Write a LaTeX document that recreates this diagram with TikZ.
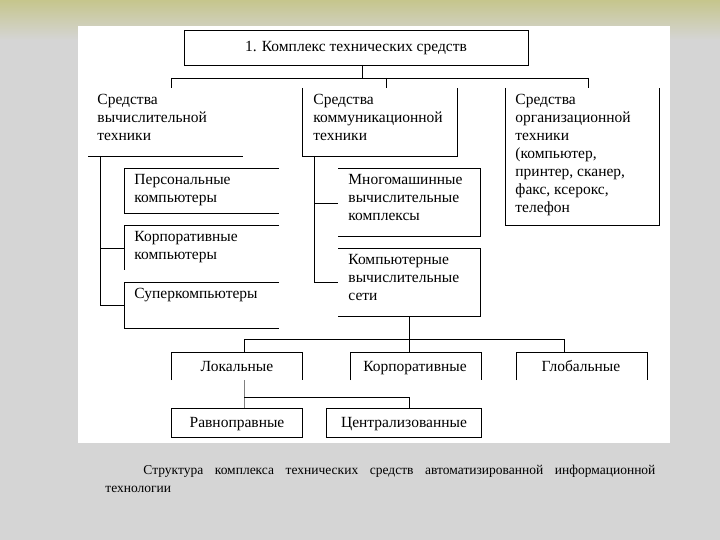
\documentclass[tikz,border=0pt]{standalone}
\usepackage{fontspec}
\setmainfont{Liberation Serif}
\begin{document}
\begin{tikzpicture}[x=1pt,y=-1pt,line width=0.9pt,
  txt/.style={anchor=north west,inner sep=0pt,align=left,font=\fontsize{15.5}{18}\selectfont},
  ctr/.style={inner sep=0pt,anchor=base,font=\fontsize{15.5}{18}\selectfont}]
\useasboundingbox (0,0) rectangle (720,540);
\fill[gray!33] (0,0) rectangle (720,540);
\shade[top color=gray!50!olive!45,bottom color=gray!33] (0,0) rectangle (720,40);
\fill[white] (78,26) rectangle (670,443);
% top
\draw (184,30) rectangle (528,65);
\node[ctr] (top) at (356,52) {1. Комплекс технических средств};
\draw (362,65) -- (362,78);
\draw (171,78) -- (588,78);
\draw (171,78) -- (171,88) (386,78) -- (386,88) (588,78) -- (588,88);
% headers
\node[txt] (h1) at (97,94) {Средства\\вычислительной\\техники};
\draw (88,156) -- (243,156);
\node[txt] (h2) at (313,94) {Средства\\коммуникационной\\техники};
\draw (302,88) -- (302,156) -- (457,156) -- (457,88);
\node[txt] (h3) at (515,94) {Средства\\организационной\\техники\\(компьютер,\\принтер, сканер,\\факс, ксерокс,\\телефон};
\draw (505,88) -- (505,225) -- (659,225) -- (659,88);
% left column
\draw (100,156) -- (100,305);
\draw (100,248) -- (124,248) (100,305) -- (124,305);
\draw (279,168) -- (124,168) -- (124,213) -- (279,213);
\draw (279,225) -- (124,225) -- (124,270);
\draw (279,282) -- (124,282) -- (124,328) -- (279,328);
\node[txt] (p1) at (134,174) {Персональные\\компьютеры};
\node[txt] (p2) at (134,231) {Корпоративные\\компьютеры};
\node[txt] (p3) at (134,288) {Суперкомпьютеры};
% middle column
\draw (314,156) -- (314,282);
\draw (314,203) -- (338,203) (314,282) -- (338,282);
\draw (338,168) -- (480,168) -- (480,236) -- (338,236);
\draw (338,248) -- (480,248) -- (480,316) -- (338,316);
\node[txt] (m1) at (348,174) {Многомашинные\\вычислительные\\комплексы};
\node[txt] (m2) at (348,254) {Компьютерные\\вычислительные\\сети};
% networks
\draw (409,316) -- (409,352);
\draw (244,339) -- (564,339);
\draw (244,339) -- (244,352) (564,339) -- (564,352);
\draw (171,380) -- (171,352) -- (302,352) -- (302,380);
\draw (350,380) -- (350,352) -- (481,352) -- (481,380);
\draw (516,380) -- (516,352) -- (647,352) -- (647,380);
\node[ctr] (n1) at (237,371) {Локальные};
\node[ctr] (n2) at (415,371) {Корпоративные};
\node[ctr] (n3) at (581,371) {Глобальные};
\draw[gray] (244,380) -- (244,408);
\draw (244,397) -- (409,397) -- (409,408);
\draw (171,408) rectangle (302,437);
\draw (326,408) rectangle (481,437);
\node[ctr] (l1) at (237,427) {Равноправные};
\node[ctr] (l2) at (404,427) {Централизованные};
% caption
\node[anchor=base west,inner sep=0pt,font=\fontsize{13.5}{14}\selectfont] (c1) at (143,474) {\hbox to 512pt{Структура\hfill комплекса\hfill технических\hfill средств\hfill автоматизированной\hfill информационной}};
\node[anchor=base west,inner sep=0pt,font=\fontsize{13.5}{14}\selectfont] (c2) at (105,492) {технологии};
\end{tikzpicture}
\end{document}
